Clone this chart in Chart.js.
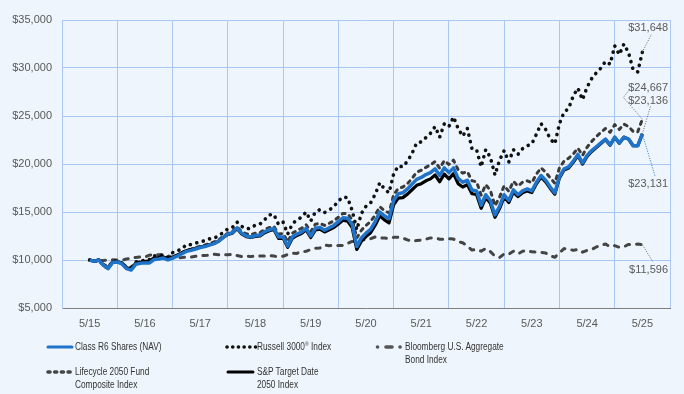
<!DOCTYPE html>
<html>
<head>
<meta charset="utf-8">
<script src="https://cdn.jsdelivr.net/npm/chart.js@4.4.1/dist/chart.umd.min.js"></script>
<style>
  html, body { margin: 0; padding: 0; background: #eef5fc; }
  #wrap { position: relative; width: 684px; height: 394px; overflow: hidden; }
  #c { position: absolute; left: 0; top: 0; }
  .lg { position: absolute; font-family: "Liberation Sans", Arial, sans-serif;
        font-size: 10px; line-height: 13px; color: #333; white-space: nowrap;
        transform: scaleX(0.83); transform-origin: 0 0; }
  .lg sup { font-size: 6px; vertical-align: 4px; line-height: 0; }
  .sym { position: absolute; overflow: visible; }
</style>
</head>
<body>
<div id="wrap">
  <canvas id="c" width="684" height="394"></canvas>

  <svg class="sym" style="left:46px;top:344px" width="28" height="6">
    <line x1="2" y1="3" x2="26" y2="3" stroke="#1f73c9" stroke-width="3" stroke-linecap="round"/>
  </svg>
  <div class="lg" style="left:75px;top:340px">Class R6 Shares (NAV)</div>

  <svg class="sym" style="left:225px;top:344px" width="32" height="6">
    <line x1="2" y1="3" x2="30.6" y2="3" stroke="#111" stroke-width="3.6" stroke-linecap="round" stroke-dasharray="0.1 5.6"/>
  </svg>
  <div class="lg" style="left:257px;top:340px">Russell 3000<sup>®</sup> Index</div>

  <svg class="sym" style="left:375px;top:344px" width="28" height="6">
    <line x1="2.5" y1="3" x2="2.6" y2="3" stroke="#555" stroke-width="3.6" stroke-linecap="round"/>
    <line x1="11" y1="3" x2="17" y2="3" stroke="#555" stroke-width="3.6" stroke-linecap="round"/>
    <line x1="25" y1="3" x2="25.1" y2="3" stroke="#555" stroke-width="3.6" stroke-linecap="round"/>
  </svg>
  <div class="lg" style="left:405px;top:340px">Bloomberg U.S. Aggregate<br>Bond Index</div>

  <svg class="sym" style="left:45px;top:369px" width="30" height="6">
    <line x1="3" y1="3" x2="27" y2="3" stroke="#444" stroke-width="3.6" stroke-linecap="round" stroke-dasharray="2 4.7"/>
  </svg>
  <div class="lg" style="left:75px;top:365px">Lifecycle 2050 Fund<br>Composite Index</div>

  <svg class="sym" style="left:226px;top:369px" width="30" height="6">
    <line x1="2" y1="3" x2="27" y2="3" stroke="#000" stroke-width="3" stroke-linecap="round"/>
  </svg>
  <div class="lg" style="left:257px;top:365px">S&amp;P Target Date<br>2050 Index</div>
</div>

<script>
// ось X: годы (май каждого года), значения помесячно с 5/15 по 5/25
const tickLabels = ['5/15', '5/16', '5/17', '5/18', '5/19', '5/20', '5/21', '5/22', '5/23', '5/24', '5/25'];
const yTicks = [5000, 10000, 15000, 20000, 25000, 30000, 35000];

const classR6 = [
  10000, 9850, 10000, 9450, 9100, 9750, 9800, 9600, 9100, 8950, 9550, 9650,
  9700, 9700, 10050, 10100, 10200, 10000, 10200, 10400, 10650, 10900, 11000, 11150,
  11300, 11400, 11550, 11700, 11950, 12350, 12700, 12850, 13350, 12800, 12500, 12400,
  12550, 12600, 12950, 13150, 13300, 12400, 12400, 11450, 12400, 12700, 12900, 13300,
  12500, 13300, 13400, 13100, 13350, 13600, 14000, 14400, 14350, 13700, 11400, 12300,
  12800, 13200, 14000, 15000, 14600, 14300, 16200, 16900, 17000, 17400, 17900, 18400,
  18600, 18900, 19100, 19500, 18800, 19600, 19100, 19600, 18500, 18100, 18300, 17300,
  17200, 15700, 16800, 16200, 14700, 15600, 16800, 16200, 17300, 16800, 17200, 17400,
  17200, 18100, 18800, 18300, 17600, 17000, 18700, 19500, 19700, 20300, 21000, 20100,
  20900, 21400, 21800, 22200, 22600, 22000, 22800, 22200, 22800, 22600, 21900, 21900,
  23131
];

const russell3000 = [
  10000, 9830, 10000, 9400, 9130, 9850, 9900, 9700, 9150, 9150, 9800, 9850,
  10000, 10050, 10450, 10450, 10500, 10300, 10750, 10950, 11150, 11600, 11600, 11750,
  11900, 12000, 12200, 12250, 12550, 12850, 13250, 13400, 13950, 13500, 13250, 13300,
  13650, 13750, 14200, 14700, 14750, 13700, 13950, 12700, 13750, 14200, 14450, 15000,
  14050, 15000, 15250, 14950, 15200, 15550, 16150, 16550, 16500, 15150, 13150, 14850,
  15600, 15950, 16850, 18050, 17400, 17000, 18950, 19800, 19700, 20300, 21100, 22200,
  22300, 22750, 23200, 23900, 22800, 24200, 23900, 24900, 23700, 22900, 23700, 21600,
  21500, 19700, 21500, 20700, 18850, 20400, 21400, 20200, 21500, 21000, 21600, 21900,
  22100, 23100, 24200, 23600, 22600, 22100, 24200, 25400, 25800, 27100, 27900, 26700,
  28000, 28900, 29500, 30000, 30700, 30400, 32300, 31400, 32500, 31600, 29800, 29600,
  31648
];

const bloombergAgg = [
  10000, 9890, 9960, 9950, 10020, 10020, 10000, 9970, 10100, 10180, 10270, 10310,
  10310, 10500, 10560, 10550, 10540, 10460, 10210, 10230, 10250, 10320, 10310, 10390,
  10470, 10460, 10500, 10590, 10540, 10550, 10540, 10590, 10460, 10360, 10430, 10350,
  10420, 10410, 10410, 10480, 10410, 10330, 10390, 10580, 10700, 10690, 10890, 10900,
  11090, 11230, 11250, 11550, 11490, 11520, 11520, 11510, 11730, 11940, 11870, 12080,
  12140, 12220, 12400, 12300, 12290, 12240, 12360, 12370, 12280, 12100, 11950, 12040,
  12080, 12170, 12300, 12280, 12170, 12170, 12210, 12180, 11920, 11790, 11460, 11030,
  11100, 10920, 11190, 10870, 10400, 10260, 10640, 10600, 10920, 10640, 10910, 10970,
  10850, 10810, 10800, 10730, 10450, 10280, 10750, 11190, 11150, 11000, 11100, 10820,
  11000, 11100, 11360, 11520, 11670, 11380, 11500, 11320, 11380, 11620, 11620, 11660,
  11596
];

const lifecycle2050 = [
  10000, 9880, 10020, 9550, 9280, 9850, 9880, 9700, 9300, 9220, 9720, 9820,
  9880, 9920, 10250, 10300, 10360, 10180, 10300, 10500, 10750, 11000, 11120, 11280,
  11450, 11550, 11720, 11880, 12100, 12450, 12800, 12980, 13450, 12950, 12720, 12650,
  12800, 12850, 13180, 13380, 13500, 12720, 12750, 11900, 12780, 13080, 13300, 13680,
  12950, 13720, 13820, 13600, 13820, 14080, 14450, 14850, 14820, 14200, 12300, 13100,
  13600, 14000, 14700, 15550, 15150, 14900, 16800, 17450, 17600, 17950, 18500, 19150,
  19350, 19650, 19900, 20250, 19550, 20350, 19950, 20400, 19400, 19050, 19200, 18250,
  18150, 16750, 17850, 17250, 15650, 16550, 17750, 17150, 18200, 17700, 18100, 18250,
  18050, 18950, 19600, 19150, 18550, 18000, 19600, 20300, 20600, 21050, 21650, 20900,
  21750, 22350, 22850, 23300, 23700, 23300, 24100, 23600, 24150, 23900, 23400, 23350,
  24667
];

const spTarget2050 = [
  10000, 9870, 10020, 9480, 9150, 9780, 9830, 9640, 9180, 9050, 9650, 9760,
  9820, 9840, 10180, 10240, 10320, 10120, 10300, 10500, 10750, 10980, 11080, 11220,
  11350, 11440, 11580, 11720, 11960, 12340, 12660, 12800, 13280, 12720, 12420, 12340,
  12460, 12500, 12840, 13040, 13180, 12260, 12280, 11320, 12260, 12560, 12760, 13140,
  12340, 13120, 13220, 12920, 13150, 13380, 13760, 14140, 14050, 13380, 11100, 11960,
  12440, 12840, 13620, 14600, 14180, 13860, 15750, 16450, 16500, 16860, 17320, 17780,
  17950, 18250, 18450, 18850, 18150, 18950, 18450, 19000, 17950, 17600, 17850, 16900,
  16820, 15380, 16500, 15920, 14450, 15360, 16560, 15980, 17080, 16600, 17000, 17200,
  17030, 17940, 18640, 18150, 17460, 16860, 18560, 19370, 19570, 20180, 20880, 19990,
  20800, 21310, 21720, 22130, 22540, 21950, 22760, 22170, 22780, 22590, 21900, 21900,
  23136
];

// месяц i -> позиция на оси в годах
function toPoints(arr) {
  return arr.map((v, i) => ({ x: i / 12, y: v }));
}

const gridColor = '#a9c7f0';
const tickFont = { family: '"Liberation Sans", Arial, sans-serif', size: 11 };

// подписи последних значений с пунктирными выносками
const endLabelSpots = [
  { ds: 2, y: 28,  color: '#666', path: [[651.5, 34]] },
  { ds: 3, y: 88,  color: '#666', path: [[623.5, 97.5], [630, 88.5]] },
  { ds: 1, y: 101, color: '#666', path: [[650.5, 106.5]] },
  { ds: 0, y: 184, color: '#1f73c9', path: [[655, 176]] },
  { ds: 4, y: 270, color: '#666', path: [[653, 262]] }
];

const endLabels = {
  id: 'endLabels',
  afterDatasetsDraw(chart) {
    const ctx = chart.ctx;
    ctx.save();
    ctx.font = '11px "Liberation Sans", Arial, sans-serif';
    ctx.textAlign = 'right';
    ctx.textBaseline = 'middle';
    endLabelSpots.forEach(function(spot) {
      const meta = chart.getDatasetMeta(spot.ds);
      const pt = meta.data[meta.data.length - 1];
      ctx.strokeStyle = spot.color;
      ctx.lineWidth = 1;
      ctx.setLineDash([1, 1.5]);
      ctx.beginPath();
      ctx.moveTo(pt.x, pt.y);
      spot.path.forEach(function(p) { ctx.lineTo(p[0], p[1]); });
      ctx.stroke();
      const data = chart.data.datasets[spot.ds].data;
      const v = Math.round(data[data.length - 1].y);
      ctx.fillStyle = '#5a5a5a';
      ctx.fillText('$' + v.toLocaleString('en-US'), 668, spot.y);
    });
    ctx.restore();
  }
};

const bgPlugin = {
  id: 'bg',
  beforeDraw(chart) {
    const ctx = chart.ctx;
    ctx.save();
    ctx.fillStyle = '#eef5fc';
    ctx.fillRect(0, 0, chart.width, chart.height);
    ctx.restore();
  }
};

const lineBase = { pointRadius: 0, pointHoverRadius: 0, tension: 0, fill: false, borderJoinStyle: 'round' };

new Chart(document.getElementById('c').getContext('2d'), {
  type: 'line',
  data: {
    datasets: [
      Object.assign({ label: 'Class R6 Shares (NAV)', data: toPoints(classR6),
        borderColor: '#1f73c9', borderWidth: 3.5 }, lineBase),
      Object.assign({ label: 'S&P Target Date 2050 Index', data: toPoints(spTarget2050),
        borderColor: '#000000', borderWidth: 3.2 }, lineBase),
      Object.assign({ label: 'Russell 3000® Index', data: toPoints(russell3000),
        borderColor: '#111111', borderWidth: 3.6, borderDash: [0.1, 6.6], borderCapStyle: 'round' }, lineBase),
      Object.assign({ label: 'Lifecycle 2050 Fund Composite Index', data: toPoints(lifecycle2050),
        borderColor: '#3a3a3a', borderWidth: 3, borderDash: [3, 5], borderCapStyle: 'round' }, lineBase),
      Object.assign({ label: 'Bloomberg U.S. Aggregate Bond Index', data: toPoints(bloombergAgg),
        borderColor: '#454545', borderWidth: 3, borderDash: [4.5, 7], borderCapStyle: 'round' }, lineBase)
    ]
  },
  options: {
    responsive: false,
    animation: false,
    devicePixelRatio: 1,
    layout: { padding: { top: 20, right: 14, left: 0, bottom: 0 } },
    plugins: { legend: { display: false }, tooltip: { enabled: false } },
    scales: {
      x: {
        type: 'linear',
        min: -0.5,
        max: 10.5,
        afterBuildTicks: function(s) { s.ticks = tickLabels.map(function(t, i) { return { value: i }; }); },
        afterFit: function(s) { s.height = 86; },
        grid: { offset: true, color: gridColor, drawTicks: false },
        border: { color: '#7f7f7f', width: 1 },
        ticks: {
          autoSkip: false, maxRotation: 0, padding: 9, color: '#595959', font: tickFont,
          callback: function(v, i) { return tickLabels[i]; }
        }
      },
      y: {
        min: 5000,
        max: 35000,
        afterBuildTicks: function(s) { s.ticks = yTicks.map(function(v) { return { value: v }; }); },
        afterFit: function(s) { s.width = 62; },
        grid: {
          drawTicks: false,
          color: function(c) { return c.tick && c.tick.value === 5000 ? 'rgba(0,0,0,0)' : gridColor; }
        },
        border: { color: gridColor, width: 1 },
        ticks: {
          padding: 10, color: '#595959', font: tickFont,
          callback: function(v) { return '$' + v.toLocaleString('en-US'); }
        }
      }
    }
  },
  plugins: [bgPlugin, endLabels]
});
</script>
</body>
</html>
